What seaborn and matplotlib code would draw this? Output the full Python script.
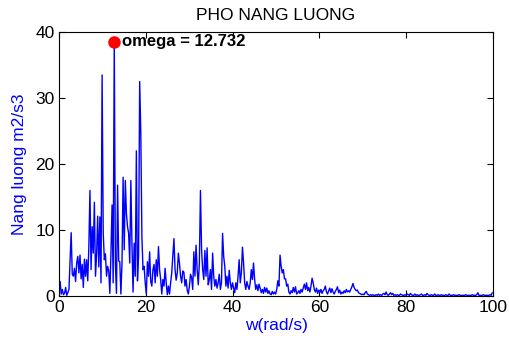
import numpy as np
import pandas as pd
import seaborn as sns
import matplotlib
matplotlib.use('Agg')
import matplotlib.pyplot as plt

sns.set_theme(style='white')
plt.rcParams['font.family'] = ['Liberation Sans', 'DejaVu Sans']

# frequency step (rad/s), peak sits at index 50
dw = 0.25464
peak_w = 12.732
peak_p = 38.5

# spectrum values, by band
p_0_10 = [0.5, 2.2, 0.3, 1.0, 0.2, 0.4, 1.3, 0.1, 0.5, 1.0,
          5.2, 9.6, 3.3, 3.0, 4.2, 2.2, 5.0, 6.0, 3.5, 6.2,
          2.6, 4.8, 1.3, 5.6, 3.0, 5.5, 2.3, 7.5, 16.0, 4.0,
          10.5, 6.5, 14.2, 3.0, 6.2, 12.1, 4.4, 12.0, 2.0, 33.5]
p_10_20 = [9.7, 5.5, 6.4, 3.0, 4.5, 3.8, 0.4, 6.5, 13.8, 2.0,
           38.5, 4.9, 0.4, 16.8, 5.3, 5.2, 0.3, 5.0, 18.0, 7.0,
           17.5, 12.5, 10.5, 9.5, 5.0, 17.5, 8.0, 0.6, 8.0, 3.0,
           22.0, 2.3, 6.0, 32.5, 24.7, 9.0, 4.0, 4.5, 2.0]
p_20_30 = [0.3, 5.2, 3.0, 6.7, 2.2, 1.5, 4.0, 4.8, 2.0, 5.5,
           3.0, 7.5, 4.0, 2.5, 0.3, 2.5, 1.5, 4.2, 2.0, 0.2,
           1.5, 0.3, 2.0, 3.5, 6.0, 8.7, 4.0, 2.4, 3.5, 6.5,
           5.0, 3.0, 2.0, 3.8, 3.6, 1.5, 2.5, 0.9, 0.3]
p_30_40 = [1.5, 3.3, 2.8, 1.0, 6.7, 3.0, 7.7, 4.0, 1.7, 5.0,
           16.0, 7.0, 4.0, 2.5, 6.9, 3.0, 7.3, 1.7, 2.5, 4.0,
           1.0, 6.5, 3.0, 1.5, 2.5, 1.2, 2.0, 3.3, 1.0, 2.0,
           9.5, 6.0, 4.5, 1.5, 3.0, 1.2, 3.9, 2.0, 1.0, 2.0]
p_40_50 = [1.2, 0.5, 2.0, 1.0, 3.0, 5.5, 2.0, 3.5, 7.4, 5.0,
           2.0, 1.0, 2.2, 1.5, 1.0, 2.0, 4.0, 2.5, 5.0, 2.5,
           1.0, 1.7, 0.8, 1.8, 1.2, 0.5, 1.0, 0.4, 1.3, 0.6,
           1.2, 0.4, 0.8, 0.3, 0.2, 0.7, 0.3, 0.6, 0.3]
p_50_60 = [1.0, 2.3, 1.5, 6.2, 4.5, 3.5, 4.0, 2.6, 2.6, 1.5,
           1.8, 0.6, 0.3, 0.8, 0.5, 1.3, 0.6, 1.4, 0.3, 0.5,
           0.8, 0.4, 1.0, 0.6, 1.2, 1.8, 1.0, 2.0, 0.8, 1.3,
           0.6, 1.5, 2.7, 2.0, 1.0, 0.6, 1.2, 0.4, 0.9]
p_60_78 = [0.5, 1.0, 0.4, 0.8, 1.0, 1.5, 0.6, 0.3, 0.8, 1.2,
           0.5, 1.1, 0.6, 0.3, 0.7, 1.0, 1.4, 0.5, 0.9, 0.3,
           0.6, 0.4, 0.8, 0.5, 1.0, 0.6, 0.8, 0.6, 1.0, 1.4,
           1.9, 1.3, 1.0, 0.8, 0.9, 0.5, 0.4, 0.3, 0.2, 0.3,
           0.2, 0.5, 0.7, 0.3, 0.2, 0.1, 0.2, 0.1, 0.2, 0.1,
           0.1, 0.2, 0.1, 0.3, 0.1, 0.2, 0.1, 0.3, 0.4, 0.2,
           0.6, 0.2, 0.1, 0.3, 0.5, 0.2, 0.4, 0.1, 0.2, 0.1]
p_78_100 = [0.2, 0.1, 0.1, 0.3, 0.2, 0.1, 0.1, 0.2, 0.1, 0.3,
            0.2, 0.1, 0.4, 0.2, 0.1, 0.1, 0.3, 0.1, 0.2, 0.1,
            0.1, 0.2, 0.3, 0.1, 0.1, 0.2, 0.1, 0.4, 0.2, 0.1,
            0.1, 0.2, 0.1, 0.1, 0.3, 0.1, 0.1, 0.2, 0.1, 0.1,
            0.2, 0.1, 0.1, 0.1, 0.2, 0.1, 0.1, 0.3, 0.1, 0.1,
            0.1, 0.2, 0.1, 0.1, 0.1, 0.1, 0.2, 0.1, 0.1, 0.1,
            0.1, 0.1, 0.2, 0.1, 0.1, 0.1, 0.1, 0.1, 0.2, 0.1,
            0.1, 0.1, 0.2, 0.5, 0.1, 0.1, 0.1, 0.1, 0.2, 0.1,
            0.1, 0.1, 0.1, 0.1, 0.2, 0.1, 0.5]

power = np.array(p_0_10 + p_10_20 + p_20_30 + p_30_40 + p_40_50 + p_50_60 + p_60_78 + p_78_100)
w = np.arange(len(power)) * dw
df = pd.DataFrame({'w': w, 'P': power})

fig = plt.figure(figsize=(5.1, 3.45), dpi=100)
ax = fig.add_axes([0.1157, 0.142, 0.851, 0.765])

sns.lineplot(data=df, x='w', y='P', ax=ax, color='#0000ff', linewidth=1.0)
ax.plot([peak_w], [peak_p], 'o', color='red', markersize=8)
ax.text(peak_w + 1.7, peak_p, 'omega = 12.732', fontsize=12, fontweight='bold',
        color='black', va='center', ha='left')

ax.set_xlim(0, 100)
ax.set_ylim(0, 40)
ax.set_xticks([0, 20, 40, 60, 80, 100])
ax.set_yticks([0, 10, 20, 30, 40])
ax.tick_params(direction='in', length=4, width=0.8, colors='black', labelsize=12.5,
               top=True, right=True, bottom=True, left=True, pad=3)
for s in ax.spines.values():
    s.set_color('black')
    s.set_linewidth(0.8)

ax.set_title('PHO NANG LUONG', fontsize=12.5, color='black', pad=9)
ax.set_xlabel('w(rad/s)', fontsize=12.5, color='#0000ff', labelpad=2)
ax.set_ylabel('Nang luong m2/s3', fontsize=12.5, color='#0000ff', labelpad=6)
ax.grid(False)

fig.savefig('out.png', dpi=100)
